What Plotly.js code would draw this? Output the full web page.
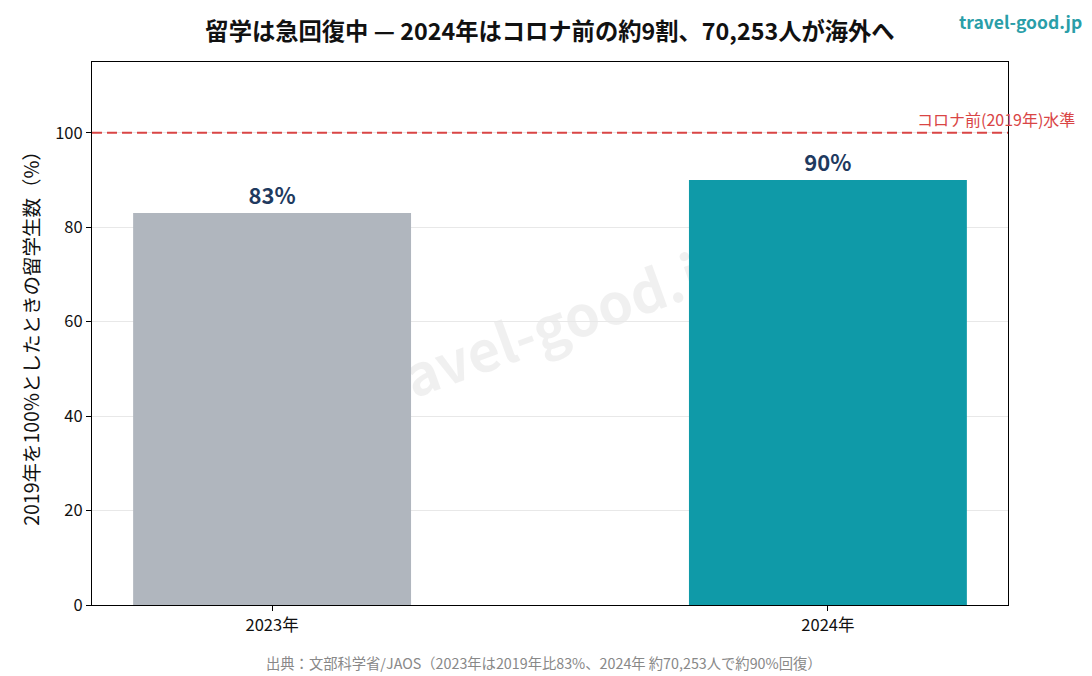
<!DOCTYPE html>
<html><head><meta charset="utf-8">
<script src="https://cdn.plot.ly/plotly-3.0.1.min.js"></script>
<style>html,body{margin:0;padding:0;background:#fff}#c{width:1092px;height:676px}</style>
</head><body><div id="c"></div>
<script>
const categories = ["2023年", "2024年"];
const values = [83, 90];
const valueLabels = ["83%", "90%"];
const barColors = ["#b0b6be", "#0f9aa8"];
const baselineValue = 100;
const baselineLabel = "コロナ前(2019年)水準";
const yTicks = [0, 20, 40, 60, 80, 100];

const FONT = "Noto Sans CJK JP, Noto Sans, sans-serif";

const wmSvg = '<svg xmlns="http://www.w3.org/2000/svg" width="916" height="543" viewBox="0 0 916 543">' +
  '<text x="458" y="271" text-anchor="middle" dominant-baseline="middle" transform="rotate(-20 458 271)" ' +
  'font-family="Noto Sans CJK JP, Noto Sans" font-weight="700" font-size="56" fill="#000" fill-opacity="0.06">travel-good.jp</text></svg>';
const wmUri = "data:image/svg+xml;charset=utf-8," + encodeURIComponent(wmSvg);

const trace = {
  type: "bar",
  x: categories,
  y: values,
  width: 0.5,
  marker: {color: barColors, line: {width: 0}},
  text: valueLabels,
  textposition: "outside",
  cliponaxis: false,
  textfont: {family: FONT, size: 22, color: "#1f3a5f", weight: 700},
  hoverinfo: "skip"
};

const layout = {
  width: 1092, height: 676,
  margin: {l: 92, r: 84, t: 62, b: 71},
  paper_bgcolor: "#fff",
  plot_bgcolor: "rgba(0,0,0,0)",
  font: {family: FONT, color: "#222"},
  showlegend: false,
  bargap: 0.5,
  title: {
    text: "<b>留学は急回復中 — 2024年はコロナ前の約9割、70,253人が海外へ</b>",
    x: 0.5, xref: "paper", xanchor: "center",
    y: 0.953, yref: "container", yanchor: "middle",
    font: {family: FONT, size: 23.3, color: "#111"}
  },
  xaxis: {
    type: "category",
    range: [-0.324, 1.324],
    showline: true, mirror: true, linecolor: "#000", linewidth: 1,
    ticks: "outside", ticklen: 5, tickcolor: "#000",
    tickfont: {family: FONT, size: 16.5, color: "#111"},
    showgrid: false, zeroline: false, fixedrange: true
  },
  yaxis: {
    range: [0, 115],
    tickvals: yTicks,
    ticktext: yTicks.map(String),
    showline: true, mirror: true, linecolor: "#000", linewidth: 1,
    ticks: "outside", ticklen: 5, tickcolor: "#000",
    tickfont: {family: FONT, size: 16.5, color: "#111"},
    showgrid: true, gridcolor: "#e8e8e8", gridwidth: 1,
    zeroline: false, fixedrange: true,
    title: {text: "2019年を100%としたときの留学生数（%）", font: {family: FONT, size: 19.5, color: "#111"}, standoff: 10}
  },
  shapes: [{
    type: "line", xref: "paper", x0: 0, x1: 1, yref: "y", y0: baselineValue, y1: baselineValue,
    line: {color: "#d94545", width: 2, dash: "10px,5px"}, layer: "above"
  }],
  images: [{
    source: wmUri, xref: "paper", yref: "paper", x: 0, y: 1, sizex: 1, sizey: 1,
    xanchor: "left", yanchor: "top", sizing: "stretch", layer: "below"
  }],
  annotations: [
    {text: baselineLabel, xref: "paper", x: 1.0755, xanchor: "right", yref: "y", y: baselineValue, yanchor: "bottom",
     yshift: 0, showarrow: false, font: {family: FONT, size: 16, color: "#d94545"}},
    {text: "<b>travel-good.jp</b>", xref: "paper", x: 1, xanchor: "right", yref: "paper", y: 1, yanchor: "bottom",
     xshift: 76, yshift: 26, showarrow: false, font: {family: FONT, size: 17.5, color: "#2a9ea8"}},
    {text: "出典：文部科学省/JAOS（2023年は2019年比83%、2024年 約70,253人で約90%回復）", xref: "paper", x: 0.493, xanchor: "center",
     yref: "paper", y: 0, yanchor: "top", yshift: -45, showarrow: false, font: {family: FONT, size: 14.3, color: "#888"}}
  ]
};

Plotly.newPlot("c", [trace], layout, {displayModeBar: false, staticPlot: true});
</script></body></html>
